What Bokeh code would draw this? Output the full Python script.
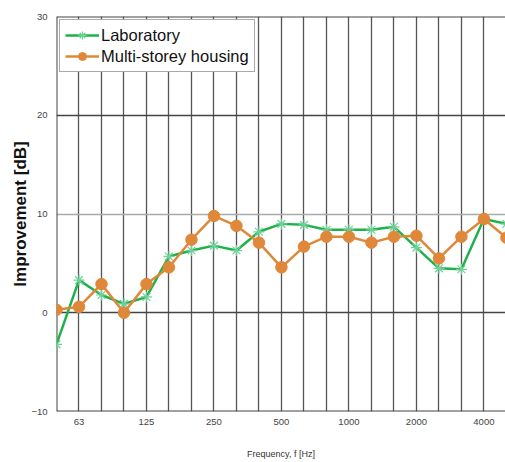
from bokeh.plotting import figure
from bokeh.models import FixedTicker, Range1d, Grid, Legend, LegendItem, Span
from bokeh.embed import file_html
from bokeh.resources import INLINE

bands = ["50", "63", "80", "100", "125", "160", "200", "250", "315", "400", "500",
         "630", "800", "1000", "1250", "1600", "2000", "2500", "3150", "4000", "5000"]
labelled = ["63", "125", "250", "500", "1000", "2000", "4000"]
laboratory = [-3.2, 3.3, 1.8, 0.9, 1.6, 5.7, 6.3, 6.8, 6.3, 8.2, 9.0,
              8.9, 8.4, 8.4, 8.4, 8.7, 6.6, 4.5, 4.4, 9.5, 9.0]
housing = [0.3, 0.6, 2.9, 0.0, 2.9, 4.6, 7.4, 9.8, 8.8, 7.1, 4.6,
           6.7, 7.7, 7.7, 7.1, 7.7, 7.8, 5.5, 7.7, 9.5, 7.6]
y_ticks = [-10, 0, 10, 20, 30]

xs = list(range(len(bands)))

p = figure(width=505, height=462, output_backend="svg", toolbar_location=None,
           x_range=Range1d(0, 19.96), y_range=Range1d(-10, 30),
           min_border_left=56, min_border_right=0, min_border_top=16, min_border_bottom=51)
p.background_fill_color = "white"
p.border_fill_color = "white"
p.outline_line_color = None

# grids
p.xgrid.ticker = FixedTicker(ticks=xs)
p.xgrid.grid_line_color = "#555555"
p.xgrid.grid_line_width = 1.3
p.ygrid.ticker = FixedTicker(ticks=[0, 20])
p.ygrid.grid_line_color = "#444444"
p.ygrid.grid_line_width = 1.4
g10 = Grid(dimension=1, ticker=FixedTicker(ticks=[10]), grid_line_color="#aaaaaa", grid_line_width=1.5)
p.add_layout(g10)

# frame lines on left, top and bottom (right side is cut off in the original)
for loc in (y_ticks[0], y_ticks[-1]):
    p.add_layout(Span(location=loc, dimension="width", line_color="#444444", line_width=2, level="underlay"))
p.add_layout(Span(location=xs[0], dimension="height", line_color="#444444", line_width=2, level="underlay"))

# axes
p.xaxis.ticker = FixedTicker(ticks=[bands.index(b) for b in labelled])
p.xaxis.major_label_overrides = {bands.index(b): b for b in labelled}
p.xaxis.axis_line_color = None
p.xaxis.major_tick_line_color = None
p.xaxis.minor_tick_line_color = None
p.xaxis.major_tick_out = 0
p.xaxis.major_tick_in = 0
p.xaxis.minor_tick_out = 0
p.xaxis.major_label_text_font = "Liberation Sans"
p.xaxis.major_label_text_font_size = "9.5px"
p.xaxis.major_label_text_color = "#444444"
p.xaxis.major_label_standoff = 7
p.xaxis.axis_label = "Frequency, f [Hz]"
p.xaxis.axis_label_text_font = "Liberation Sans"
p.xaxis.axis_label_text_font_size = "9px"
p.xaxis.axis_label_text_font_style = "normal"
p.xaxis.axis_label_text_color = "#333333"
p.xaxis.axis_label_standoff = 21

p.yaxis.ticker = FixedTicker(ticks=y_ticks)
p.yaxis.axis_line_color = None
p.yaxis.major_tick_line_color = None
p.yaxis.minor_tick_line_color = None
p.yaxis.major_tick_out = 0
p.yaxis.major_tick_in = 0
p.yaxis.minor_tick_out = 0
p.yaxis.major_label_text_font = "Liberation Sans"
p.yaxis.major_label_text_font_size = "9.5px"
p.yaxis.major_label_text_color = "#444444"
p.yaxis.major_label_standoff = 9
p.yaxis.axis_label = "Improvement [dB]"
p.yaxis.axis_label_text_font = "Liberation Sans"
p.yaxis.axis_label_text_font_size = "17px"
p.yaxis.axis_label_text_font_style = "bold"
p.yaxis.axis_label_text_color = "#111111"
p.yaxis.axis_label_standoff = -2

green = "#1fb24a"
orange = "#e0883a"
l1 = p.line(xs, laboratory, line_color=green, line_width=2.5)
m1 = p.scatter(xs, laboratory, marker="asterisk", size=11, line_color="#6fd19a", line_width=1.2)
l2 = p.line(xs, housing, line_color=orange, line_width=2.5)
m2 = p.scatter(xs, housing, marker="circle", size=11.5, fill_color=orange, line_color=orange)

legend = Legend(items=[LegendItem(label="Laboratory", renderers=[l1, m1]),
                       LegendItem(label="Multi-storey housing", renderers=[l2, m2])],
                location="top_left")
legend.margin = 3
legend.padding = 5
legend.spacing = 1
legend.label_text_font = "Liberation Sans"
legend.label_text_font_size = "16.5px"
legend.label_text_color = "#111111"
legend.label_standoff = 2
legend.glyph_width = 34
legend.glyph_height = 20
legend.border_line_color = "#555555"
legend.border_line_width = 1.3
legend.background_fill_alpha = 1.0
p.add_layout(legend)

open("out.html", "w").write(file_html(p, INLINE))
